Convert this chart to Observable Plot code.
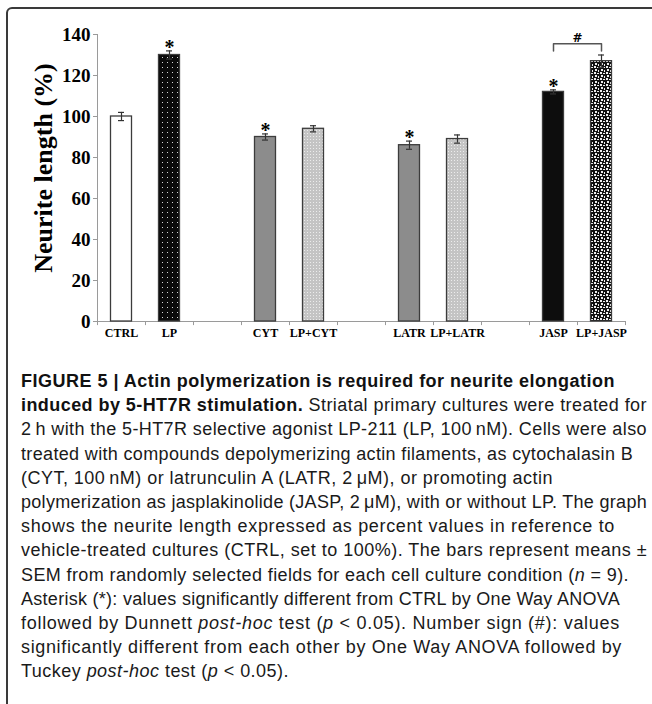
<!DOCTYPE html>
<html><head><meta charset="utf-8">
<script src="https://cdn.jsdelivr.net/npm/d3@7"></script>
<script src="https://cdn.jsdelivr.net/npm/@observablehq/plot@0.6"></script>
<style>
html,body{margin:0;padding:0;background:#fff;}
#wrap{position:relative;width:652px;height:704px;overflow:hidden;background:#fff;}
#frame{position:absolute;left:6px;top:7px;width:720px;height:760px;border:2px solid #3a3a3a;border-radius:6px;box-sizing:border-box;}
#chart{position:absolute;left:0;top:0;}
#caption{position:absolute;left:21px;top:369px;font-family:"Liberation Sans",Arial,sans-serif;font-size:18px;line-height:24.2px;color:#1a1a1a;}
.ln{white-space:nowrap;display:block;}
b{font-weight:bold;color:#111;}
</style></head><body>
<svg width="0" height="0" style="position:absolute">
<defs>
<pattern id="pLP" width="5" height="5" patternUnits="userSpaceOnUse"><rect width="5" height="5" fill="#0a0a0a"/><rect x="2" y="2" width="1" height="1" fill="#d8d8d8"/></pattern>
<pattern id="pLight" width="3" height="3" patternUnits="userSpaceOnUse"><rect width="3" height="3" fill="#c4c4c4"/><rect x="1" y="1" width="1" height="1" fill="#ececec"/></pattern>
<pattern id="pCheck" width="6" height="6" patternUnits="userSpaceOnUse">
  <rect width="6" height="6" fill="#111"/>
  <rect x="0" y="0" width="2" height="2" fill="#eeeeee"/>
  <rect x="3" y="1" width="2" height="1" fill="#eeeeee"/>
  <rect x="1" y="3" width="2" height="2" fill="#eeeeee"/>
  <rect x="4" y="4" width="1" height="2" fill="#eeeeee"/>
</pattern>
</defs></svg>
<div id="wrap">
<div id="frame"></div>
<div id="chart"></div>
<div id="caption">
<span class="ln" data-w="594"><b>FIGURE 5 | Actin polymerization is required for neurite elongation</b></span>
<span class="ln" data-w="626"><b>induced by 5-HT7R stimulation.</b> Striatal primary cultures were treated for</span>
<span class="ln" data-w="626">2&#8201;h with the 5-HT7R selective agonist LP-211 (LP, 100&#8201;nM). Cells were also</span>
<span class="ln" data-w="612">treated with compounds depolymerizing actin filaments, as cytochalasin B</span>
<span class="ln">(CYT, 100&#8201;nM) or latrunculin A (LATR, 2&#8201;μM), or promoting actin</span>
<span class="ln" data-w="626">polymerization as jasplakinolide (JASP, 2&#8201;μM), with or without LP. The graph</span>
<span class="ln" data-w="594">shows the neurite length expressed as percent values in reference to</span>
<span class="ln" data-w="626">vehicle-treated cultures (CTRL, set to 100%). The bars represent means ±</span>
<span class="ln" data-w="608">SEM from randomly selected fields for each cell culture condition (<i>n</i> = 9).</span>
<span class="ln" data-w="599">Asterisk (*): values significantly different from CTRL by One Way ANOVA</span>
<span class="ln" data-w="599">followed by Dunnett <i>post-hoc</i> test (<i>p</i> &lt; 0.05). Number sign (#): values</span>
<span class="ln" data-w="601">significantly different from each other by One Way ANOVA followed by</span>
<span class="ln">Tuckey <i>post-hoc</i> test (<i>p</i> &lt; 0.05).</span>
</div>
</div>
<script>
// ---- data ----
const categories = ["CTRL", "LP", "CYT", "LP+CYT", "LATR", "LP+LATR", "JASP", "LP+JASP"];
const means = [100, 130, 90, 94, 86, 89, 112, 127];
const sems = [2, 2, 1.5, 1.5, 2, 2, 1, 3];
const starred = ["LP", "CYT", "LATR", "JASP"];
const hashPair = ["JASP", "LP+JASP"];
const hashLevel = 135.5;
const hashLegEnd = 132;
const yTicks = [0, 20, 40, 60, 80, 100, 120, 140];
const yLabel = "Neurite length (%)";

// ---- styles ----
const fills = {
  "CTRL": "#ffffff", "LP": "url(#pLP)", "CYT": "#8c8c8c", "LP+CYT": "url(#pLight)",
  "LATR": "#8c8c8c", "LP+LATR": "url(#pLight)", "JASP": "#0d0d0d", "LP+JASP": "url(#pCheck)"
};
const serif = "'Liberation Serif','Times New Roman',serif";

// slots: pairs separated by empty gap slots
const slots = [];
categories.forEach((c, i) => { slots.push(c); if (i % 2 === 1 && i < categories.length - 1) slots.push("gap" + i); });
const rows = categories.map((c, i) => ({cat: c, mean: means[i], sem: sems[i]}));
const bracket = [
  {cat: hashPair[0], y: hashLegEnd}, {cat: hashPair[0], y: hashLevel},
  {cat: hashPair[1], y: hashLevel}, {cat: hashPair[1], y: hashLegEnd}
];

const chart = Plot.plot({
  width: 652, height: 350,
  marginLeft: 97, marginRight: 27, marginTop: 34, marginBottom: 29,
  style: {fontFamily: serif, color: "#000", background: "transparent", overflow: "visible"},
  x: {type: "band", domain: slots, padding: 0, axis: null},
  y: {domain: [0, 140], axis: null},
  color: {type: "identity"},
  marks: [
    Plot.ruleX([slots[0]], {x: d => d, y1: 0, y2: 140, dx: -24, stroke: "#9a9a9a", strokeWidth: 1}),
    Plot.axisY({ticks: yTicks, tickSize: 4, tickPadding: 3, stroke: "#9a9a9a", fontSize: 19, fontWeight: "bold", fontFamily: serif, fill: "#000", label: null}),
    Plot.text([yLabel], {text: d => d, frameAnchor: "left", rotate: -90, dx: -54, dy: -10, fontSize: 26, fontWeight: "bold", fontFamily: serif, fill: "#000", textAnchor: "middle", lineAnchor: "middle"}),
    Plot.ruleY([0], {stroke: "#9a9a9a", strokeWidth: 1}),
    Plot.ruleX(slots, {x: d => d, y1: 0, y2: -2, dx: -24, stroke: "#9a9a9a"}),
    Plot.ruleX([slots[slots.length - 1]], {x: d => d, y1: 0, y2: -2, dx: 24, stroke: "#9a9a9a"}),
    Plot.axisX({tickSize: 0, tickPadding: 7, tickFormat: d => categories.includes(d) ? d : "", fontSize: 12, fontWeight: "bold", fontFamily: serif, fill: "#000", label: null}),
    Plot.barY(rows, {x: "cat", y: "mean", fill: d => fills[d.cat], stroke: "#3c3c3c", strokeWidth: 1.3, insetLeft: 13.5, insetRight: 13.5}),
    Plot.ruleX(rows, {x: "cat", y1: d => d.mean - d.sem, y2: d => d.mean + d.sem, stroke: "#333", strokeWidth: 1.2}),
    Plot.tickY(rows, {x: "cat", y: d => d.mean + d.sem, stroke: "#333", strokeWidth: 1.2, insetLeft: 21, insetRight: 21}),
    Plot.tickY(rows, {x: "cat", y: d => d.mean - d.sem, stroke: "#333", strokeWidth: 1.2, insetLeft: 21, insetRight: 21}),
    Plot.text(rows.filter(d => starred.includes(d.cat)), {x: "cat", y: d => d.mean + d.sem, text: () => "*", dy: 3, lineAnchor: "bottom", fontSize: 20, fontWeight: "bold", fontFamily: serif, fill: "#000"}),
    Plot.line(bracket, {x: "cat", y: "y", stroke: "#555", strokeWidth: 1.5}),
    Plot.text([hashPair[0]], {x: d => d, y: hashLevel, text: () => "#", dx: 24, dy: -2, lineAnchor: "bottom", fontSize: 12, fontWeight: "bold", fontFamily: "'DejaVu Sans',sans-serif", fill: "#000"})
  ]
});
document.getElementById("chart").appendChild(chart);

// fit caption lines to measured widths via letter spacing
const lines = [...document.querySelectorAll("#caption .ln")];
const spacings = [];
lines.forEach(el => {
  const w = +el.dataset.w;
  if (!w) return;
  el.style.display = "inline-block";
  const nat = el.getBoundingClientRect().width;
  const n = el.textContent.length;
  const ls = (w - nat) / n;
  el.style.letterSpacing = ls.toFixed(3) + "px";
  el.style.display = "block";
  spacings.push(ls);
});
const avg = spacings.reduce((a, b) => a + b, 0) / spacings.length;
lines.forEach(el => { if (!el.dataset.w) el.style.letterSpacing = avg.toFixed(3) + "px"; });
</script>
</body></html>
